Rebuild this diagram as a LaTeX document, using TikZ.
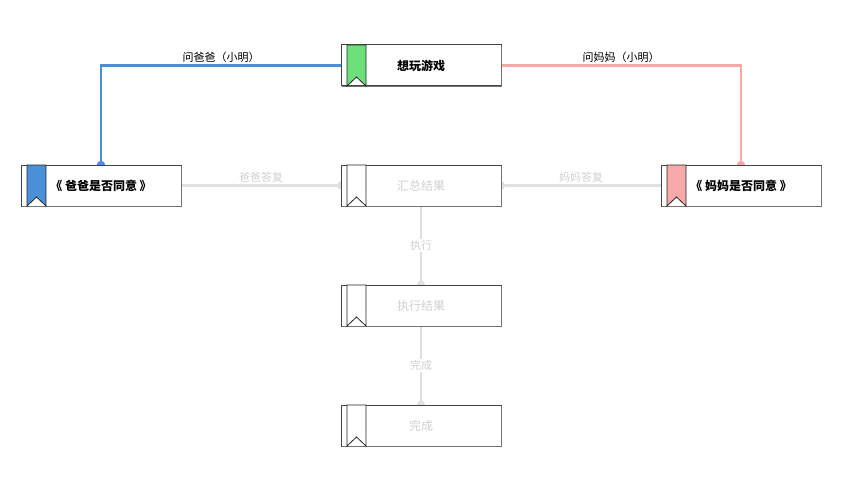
\documentclass[tikz,border=0pt]{standalone}
\usepackage{fontspec}
\setmainfont{Noto Sans CJK SC}
\pgfdeclarelayer{background}
\pgfsetlayers{background,main}
\definecolor{cblue}{HTML}{4A90D9}
\definecolor{cpink}{HTML}{F7A8A8}
\definecolor{cgreen}{HTML}{6EE07A}
\definecolor{cgray}{HTML}{E0E0E0}
\definecolor{ctext}{HTML}{D0D0D0}
\definecolor{cborder}{HTML}{444444}
\tikzset{
  box/.style={draw=cborder, line width=1pt, outer sep=0pt, fill=white, minimum width=160pt, minimum height=41pt, inner sep=0pt,
    font=\fontsize{12}{13}\selectfont},
  active/.style={box, text=black, font=\fontsize{12}{13}\selectfont\bfseries},
  idle/.style={box, text=ctext},
  ribbon/.style={draw=black!85, line width=0.8pt},
  shadowline/.style={draw=black!55, line width=1.2pt},
  blueline/.style={draw=cblue, line width=2.2pt},
  pinkline/.style={draw=cpink, line width=2.2pt},
  grayline/.style={draw=cgray, line width=2.6pt},
  lbl/.style={font=\fontsize{11}{12}\selectfont, inner sep=1.5pt},
}
\newcommand{\ribbonmark}[2]{%
  \draw[shadowline] ([xshift=1pt,yshift=-0.6pt]#1.south west) -- ([xshift=0.6pt,yshift=-0.6pt]#1.south east) -- ([xshift=0.6pt,yshift=-1pt]#1.north east);
  \draw[ribbon, fill=#2] ([xshift=6pt]#1.north west) -- ([xshift=25pt]#1.north west)
    -- ([xshift=25pt]#1.south west) -- ([xshift=15.5pt, yshift=9pt]#1.south west)
    -- ([xshift=6pt]#1.south west) -- cycle;}
\begin{document}
\begin{tikzpicture}[x=1pt, y=-1pt]
\useasboundingbox (0,0) rectangle (851,484);
\node[active] (top) at (421,65.5) {想玩游戏};
\node[active] (dad) at (101,185.5) {《 爸爸是否同意 》};
\node[idle] (sum) at (421,185.5) {汇总结果};
\node[active] (mom) at (741,185.5) {《 妈妈是否同意 》};
\node[idle] (exec) at (421,305.5) {执行结果};
\node[idle] (done) at (421,425.5) {完成};
\ribbonmark{top}{cgreen}
\ribbonmark{dad}{cblue}
\ribbonmark{sum}{white}
\ribbonmark{mom}{cpink}
\ribbonmark{exec}{white}
\ribbonmark{done}{white}
\begin{pgfonlayer}{background}
\draw[blueline] (top.west) -| node[pos=0.25, above, lbl, text=black] {问爸爸（小明）} (dad.north);
\fill[cblue] (dad.north) circle (4.2pt);
\draw[pinkline] (top.east) -| node[pos=0.25, above, lbl, text=black] {问妈妈（小明）} (mom.north);
\fill[cpink] (mom.north) circle (4.2pt);
\draw[grayline] (dad.east) -- node[above, lbl, text=ctext] {爸爸答复} (sum.west);
\fill[cgray] (sum.west) circle (4.2pt);
\draw[grayline] (mom.west) -- node[above, lbl, text=ctext] {妈妈答复} (sum.east);
\fill[cgray] (sum.east) circle (4.2pt);
\draw[grayline] (sum.south) -- node[lbl, fill=white, text=ctext] {执行} (exec.north);
\fill[cgray] (exec.north) circle (4.2pt);
\draw[grayline] (exec.south) -- node[lbl, fill=white, text=ctext] {完成} (done.north);
\fill[cgray] (done.north) circle (4.2pt);
\end{pgfonlayer}
\end{tikzpicture}
\end{document}
